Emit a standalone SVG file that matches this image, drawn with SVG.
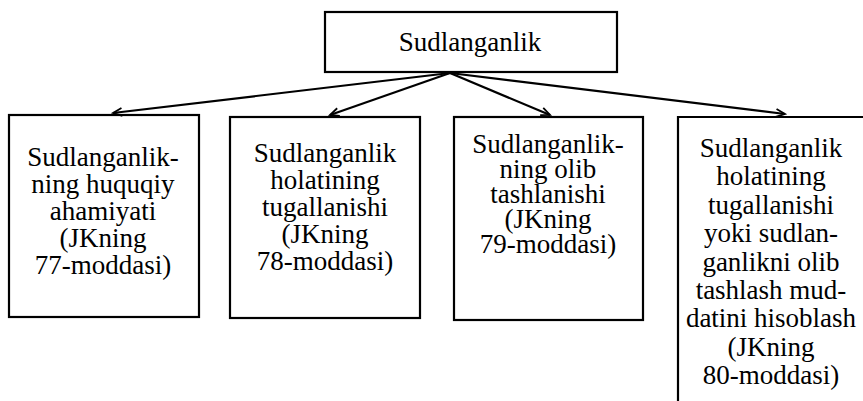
<svg xmlns="http://www.w3.org/2000/svg" width="863" height="401" viewBox="0 0 863 401">
<defs>
<style>
.box{fill:none;stroke:#000;stroke-width:2.2}
.t{font-family:"Liberation Serif","Times New Roman",serif;font-size:27px;fill:#000;text-anchor:middle}
.c{fill:none;stroke:#000;stroke-width:2.2}
</style>
<marker id="ah" markerWidth="12" markerHeight="10" refX="10" refY="5" orient="auto" markerUnits="userSpaceOnUse">
<path d="M1,1 L10,5 L1,9" fill="none" stroke="#000" stroke-width="1.8"/>
</marker>
</defs>
<rect width="863" height="401" fill="#fff"/>
<g id="root">
<rect class="box" x="325" y="12" width="292" height="60"/>
<text class="t" x="470" y="51">Sudlanganlik</text>
</g>
<g id="connectors">
<line class="c" x1="450" y1="73" x2="113" y2="113" marker-end="url(#ah)"/>
<line class="c" x1="450" y1="73" x2="330" y2="115" marker-end="url(#ah)"/>
<line class="c" x1="450" y1="73" x2="550" y2="115" marker-end="url(#ah)"/>
<line class="c" x1="450" y1="73" x2="785" y2="114" marker-end="url(#ah)"/>
</g>
<g id="n77">
<rect class="box" x="9" y="115" width="190" height="202"/>
<text class="t" x="103" y="166">Sudlanganlik-</text>
<text class="t" x="103" y="193">ning  huquqiy</text>
<text class="t" x="103" y="220">ahamiyati</text>
<text class="t" x="103" y="247">(JKning</text>
<text class="t" x="103" y="274">77-moddasi)</text>
</g>
<g id="n78">
<rect class="box" x="230" y="117" width="190" height="201"/>
<text class="t" x="325" y="162">Sudlanganlik</text>
<text class="t" x="325" y="189">holatining</text>
<text class="t" x="325" y="216">tugallanishi</text>
<text class="t" x="325" y="243">(JKning</text>
<text class="t" x="325" y="270">78-moddasi)</text>
</g>
<g id="n79">
<rect class="box" x="454" y="117" width="189" height="203"/>
<text class="t" x="548" y="153">Sudlanganlik-</text>
<text class="t" x="548" y="178">ning olib</text>
<text class="t" x="548" y="203">tashlanishi</text>
<text class="t" x="548" y="228">(JKning</text>
<text class="t" x="548" y="253">79-moddasi)</text>
</g>
<g id="n80">
<path class="box" d="M678,401 V117 H863"/>
<text class="t" x="771" y="157">Sudlanganlik</text>
<text class="t" x="771" y="185">holatining</text>
<text class="t" x="771" y="214">tugallanishi</text>
<text class="t" x="771" y="242">yoki sudlan-</text>
<text class="t" x="771" y="271">ganlikni olib</text>
<text class="t" x="771" y="299">tashlash  mud-</text>
<text class="t" x="771" y="327">datini  hisoblash</text>
<text class="t" x="771" y="356">(JKning</text>
<text class="t" x="771" y="384">80-moddasi)</text>
</g>
</svg>
